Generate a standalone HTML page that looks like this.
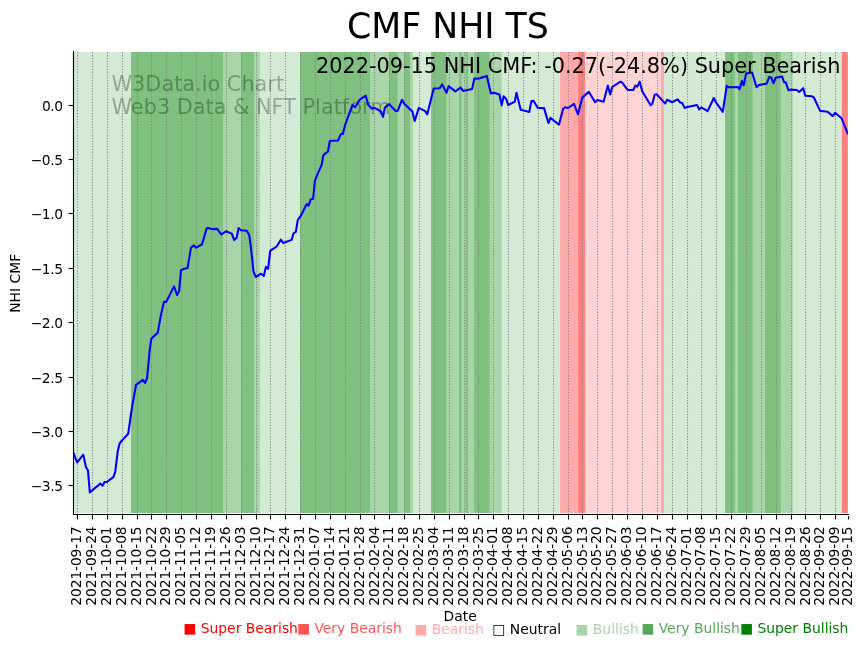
<!DOCTYPE html>
<html><head><meta charset="utf-8"><title>CMF NHI TS</title>
<style>html,body{margin:0;padding:0;background:#fff;}svg{display:block;}text{font-family:"DejaVu Sans","Liberation Sans",sans-serif;}</style>
</head><body>
<svg width="867" height="646" viewBox="0 0 867 646">
<rect x="0" y="0" width="867" height="646" fill="#ffffff"/>
<g shape-rendering="auto">
<rect x="73.30" y="52.0" width="57.70" height="461.0" fill="#d4ead4"/>
<rect x="131.00" y="52.0" width="92.00" height="461.0" fill="#80c080"/>
<rect x="223.00" y="52.0" width="17.84" height="461.0" fill="#aad5aa"/>
<rect x="240.84" y="52.0" width="13.16" height="461.0" fill="#80c080"/>
<rect x="254.00" y="52.0" width="5.90" height="461.0" fill="#aad5aa"/>
<rect x="259.90" y="52.0" width="40.10" height="461.0" fill="#d4ead4"/>
<rect x="300.00" y="52.0" width="70.00" height="461.0" fill="#80c080"/>
<rect x="370.00" y="52.0" width="18.94" height="461.0" fill="#aad5aa"/>
<rect x="388.94" y="52.0" width="8.94" height="461.0" fill="#80c080"/>
<rect x="397.88" y="52.0" width="6.05" height="461.0" fill="#aad5aa"/>
<rect x="403.93" y="52.0" width="6.06" height="461.0" fill="#80c080"/>
<rect x="409.99" y="52.0" width="3.00" height="461.0" fill="#aad5aa"/>
<rect x="412.99" y="52.0" width="18.07" height="461.0" fill="#d4ead4"/>
<rect x="431.06" y="52.0" width="15.74" height="461.0" fill="#80c080"/>
<rect x="446.80" y="52.0" width="12.20" height="461.0" fill="#aad5aa"/>
<rect x="459.00" y="52.0" width="2.90" height="461.0" fill="#80c080"/>
<rect x="461.90" y="52.0" width="3.30" height="461.0" fill="#aad5aa"/>
<rect x="465.20" y="52.0" width="2.80" height="461.0" fill="#80c080"/>
<rect x="468.00" y="52.0" width="6.04" height="461.0" fill="#aad5aa"/>
<rect x="474.04" y="52.0" width="15.86" height="461.0" fill="#80c080"/>
<rect x="489.90" y="52.0" width="12.00" height="461.0" fill="#aad5aa"/>
<rect x="501.90" y="52.0" width="58.17" height="461.0" fill="#d4ead4"/>
<rect x="560.07" y="52.0" width="17.73" height="461.0" fill="#ffaaaa"/>
<rect x="577.80" y="52.0" width="7.20" height="461.0" fill="#ff8080"/>
<rect x="585.00" y="52.0" width="76.00" height="461.0" fill="#ffd4d4"/>
<rect x="661.00" y="52.0" width="3.00" height="461.0" fill="#ffaaaa"/>
<rect x="664.00" y="52.0" width="61.07" height="461.0" fill="#d4ead4"/>
<rect x="725.07" y="52.0" width="9.83" height="461.0" fill="#80c080"/>
<rect x="734.90" y="52.0" width="3.10" height="461.0" fill="#aad5aa"/>
<rect x="738.00" y="52.0" width="14.90" height="461.0" fill="#80c080"/>
<rect x="752.90" y="52.0" width="12.10" height="461.0" fill="#aad5aa"/>
<rect x="765.00" y="52.0" width="15.90" height="461.0" fill="#80c080"/>
<rect x="780.90" y="52.0" width="12.00" height="461.0" fill="#aad5aa"/>
<rect x="792.90" y="52.0" width="48.90" height="461.0" fill="#d4ead4"/>
<rect x="841.80" y="52.0" width="6.10" height="461.0" fill="#ff8080"/>
</g>
<g stroke="#808080" stroke-width="1.0417" stroke-dasharray="1.0417 1.7188" fill="none">
<line x1="77.5" y1="514.4" x2="77.5" y2="51.4"/>
<line x1="92.5" y1="514.4" x2="92.5" y2="51.4"/>
<line x1="107.5" y1="514.4" x2="107.5" y2="51.4"/>
<line x1="122.5" y1="514.4" x2="122.5" y2="51.4"/>
<line x1="137.5" y1="514.4" x2="137.5" y2="51.4"/>
<line x1="151.5" y1="514.4" x2="151.5" y2="51.4"/>
<line x1="166.5" y1="514.4" x2="166.5" y2="51.4"/>
<line x1="181.5" y1="514.4" x2="181.5" y2="51.4"/>
<line x1="196.5" y1="514.4" x2="196.5" y2="51.4"/>
<line x1="211.5" y1="514.4" x2="211.5" y2="51.4"/>
<line x1="226.5" y1="514.4" x2="226.5" y2="51.4"/>
<line x1="241.5" y1="514.4" x2="241.5" y2="51.4"/>
<line x1="256.5" y1="514.4" x2="256.5" y2="51.4"/>
<line x1="270.5" y1="514.4" x2="270.5" y2="51.4"/>
<line x1="285.5" y1="514.4" x2="285.5" y2="51.4"/>
<line x1="300.5" y1="514.4" x2="300.5" y2="51.4"/>
<line x1="315.5" y1="514.4" x2="315.5" y2="51.4"/>
<line x1="330.5" y1="514.4" x2="330.5" y2="51.4"/>
<line x1="345.5" y1="514.4" x2="345.5" y2="51.4"/>
<line x1="360.5" y1="514.4" x2="360.5" y2="51.4"/>
<line x1="374.5" y1="514.4" x2="374.5" y2="51.4"/>
<line x1="389.5" y1="514.4" x2="389.5" y2="51.4"/>
<line x1="404.5" y1="514.4" x2="404.5" y2="51.4"/>
<line x1="419.5" y1="514.4" x2="419.5" y2="51.4"/>
<line x1="434.5" y1="514.4" x2="434.5" y2="51.4"/>
<line x1="449.5" y1="514.4" x2="449.5" y2="51.4"/>
<line x1="464.5" y1="514.4" x2="464.5" y2="51.4"/>
<line x1="478.5" y1="514.4" x2="478.5" y2="51.4"/>
<line x1="493.5" y1="514.4" x2="493.5" y2="51.4"/>
<line x1="508.5" y1="514.4" x2="508.5" y2="51.4"/>
<line x1="523.5" y1="514.4" x2="523.5" y2="51.4"/>
<line x1="538.5" y1="514.4" x2="538.5" y2="51.4"/>
<line x1="553.5" y1="514.4" x2="553.5" y2="51.4"/>
<line x1="568.5" y1="514.4" x2="568.5" y2="51.4"/>
<line x1="582.5" y1="514.4" x2="582.5" y2="51.4"/>
<line x1="597.5" y1="514.4" x2="597.5" y2="51.4"/>
<line x1="612.5" y1="514.4" x2="612.5" y2="51.4"/>
<line x1="627.5" y1="514.4" x2="627.5" y2="51.4"/>
<line x1="642.5" y1="514.4" x2="642.5" y2="51.4"/>
<line x1="657.5" y1="514.4" x2="657.5" y2="51.4"/>
<line x1="672.5" y1="514.4" x2="672.5" y2="51.4"/>
<line x1="687.5" y1="514.4" x2="687.5" y2="51.4"/>
<line x1="701.5" y1="514.4" x2="701.5" y2="51.4"/>
<line x1="716.5" y1="514.4" x2="716.5" y2="51.4"/>
<line x1="731.5" y1="514.4" x2="731.5" y2="51.4"/>
<line x1="746.5" y1="514.4" x2="746.5" y2="51.4"/>
<line x1="761.5" y1="514.4" x2="761.5" y2="51.4"/>
<line x1="776.5" y1="514.4" x2="776.5" y2="51.4"/>
<line x1="791.5" y1="514.4" x2="791.5" y2="51.4"/>
<line x1="805.5" y1="514.4" x2="805.5" y2="51.4"/>
<line x1="820.5" y1="514.4" x2="820.5" y2="51.4"/>
<line x1="835.5" y1="514.4" x2="835.5" y2="51.4"/>
</g>
<g font-family="DejaVu Sans, Liberation Sans, sans-serif" font-size="20.83px" fill="#000000" fill-opacity="0.3">
<text x="111.5" y="90.6">W3Data.io Chart</text>
<text x="111.5" y="113.7">Web3 Data &amp; NFT Platform</text>
</g>
<defs><clipPath id="ax"><rect x="73.5" y="51.4" width="774.4" height="463"/></clipPath></defs>
<polyline clip-path="url(#ax)" points="73.20,452.50 77.10,462.30 83.30,454.70 85.90,466.90 88.00,470.60 89.80,492.40 100.30,483.60 102.60,485.70 104.50,482.00 106.80,482.00 113.40,477.20 115.20,472.00 117.70,451.60 119.60,443.50 122.00,440.40 128.20,433.70 132.30,405.50 136.10,384.80 142.90,379.90 145.10,382.80 147.10,378.00 149.70,350.40 151.40,338.50 157.70,332.90 160.80,315.90 163.90,301.90 166.30,301.90 174.00,286.40 177.10,295.00 179.10,291.10 181.00,270.20 183.30,269.10 187.60,267.90 191.00,247.70 193.80,245.40 196.10,247.70 202.00,244.30 206.70,228.20 208.50,228.00 211.30,229.10 217.20,228.90 221.30,234.50 225.90,231.30 231.80,233.60 234.20,240.10 236.70,237.80 238.60,228.00 241.00,230.20 246.80,230.70 249.20,235.00 250.80,246.40 253.50,271.30 255.70,277.00 261.10,273.70 263.80,276.00 265.90,266.90 268.10,268.80 270.20,250.80 272.40,249.30 276.70,246.50 280.80,239.70 283.30,243.10 286.00,242.10 291.60,239.90 293.50,233.50 295.90,231.60 297.80,219.80 300.30,216.70 306.10,205.20 306.90,204.10 308.70,205.60 310.60,199.40 313.10,198.80 314.90,180.80 316.80,175.80 321.70,164.70 323.30,155.40 325.40,153.30 327.90,151.70 329.80,141.20 331.60,140.80 338.20,140.50 340.30,135.00 341.60,133.70 342.80,134.00 345.10,125.00 348.50,115.60 352.60,105.00 355.10,107.30 359.60,99.90 365.70,95.60 368.10,104.60 371.90,108.80 374.50,107.80 380.90,111.40 383.00,116.90 384.90,107.60 388.90,104.10 395.70,111.00 397.80,110.70 402.00,99.70 404.40,103.90 412.40,111.60 414.70,121.00 418.80,107.80 425.20,111.20 427.30,114.30 433.70,88.60 439.70,88.20 442.20,84.40 446.50,92.90 448.60,86.10 455.30,91.40 460.60,87.60 463.20,91.00 472.10,89.00 474.30,78.60 478.10,78.80 486.80,75.90 490.90,93.50 493.80,92.70 499.40,94.40 501.70,105.40 503.60,96.30 506.20,99.00 508.20,105.10 514.80,101.70 516.50,92.80 520.70,109.80 529.30,111.90 531.40,101.10 533.50,100.90 537.80,107.90 544.10,108.10 548.40,123.00 550.50,117.90 559.00,124.70 563.20,108.60 565.10,107.30 568.10,108.00 574.00,103.80 578.00,114.30 582.30,97.60 588.80,91.90 595.10,102.10 597.40,100.10 603.60,101.80 607.80,85.60 610.20,94.40 612.30,86.90 620.50,81.70 622.70,83.20 626.90,89.10 628.60,90.00 633.30,90.00 635.40,85.50 637.30,86.60 639.70,81.70 642.20,91.30 650.60,105.10 652.30,103.90 654.60,94.70 656.70,94.30 665.20,103.60 667.10,99.80 672.10,102.30 677.80,99.40 680.20,102.60 682.30,103.10 684.60,107.90 687.40,107.10 697.10,105.10 699.10,109.40 701.30,107.40 707.60,111.10 713.80,98.00 716.40,103.00 722.80,111.90 726.70,85.90 728.80,87.30 737.80,87.00 739.60,89.30 741.90,81.00 743.70,85.40 746.10,73.50 752.10,72.50 756.50,87.10 758.90,85.00 766.70,83.60 769.30,76.90 771.40,77.80 773.50,83.30 775.60,77.80 782.10,76.60 784.10,82.40 785.80,82.20 788.40,90.30 791.00,89.60 796.80,90.00 799.20,91.90 803.20,88.20 805.30,95.80 811.90,96.30 813.90,97.50 820.10,110.90 827.60,111.70 832.80,116.10 835.10,112.80 841.50,118.20 848.20,134.70" fill="none" stroke="#0000ff" stroke-width="2.08" stroke-linejoin="round" stroke-linecap="butt"/>
<text x="316.0" y="72.6" font-family="DejaVu Sans, Liberation Sans, sans-serif" font-size="20.83px" fill="#000">2022-09-15 NHI CMF: -0.27(-24.8%) Super Bearish</text>
<g stroke="#000" stroke-width="1.11" fill="none">
<line x1="73.5" y1="50.9" x2="73.5" y2="515.0"/>
<line x1="73.0" y1="514.5" x2="848.9" y2="514.5"/>
<line x1="68.6" y1="105.5" x2="73.5" y2="105.5"/>
<line x1="68.6" y1="159.5" x2="73.5" y2="159.5"/>
<line x1="68.6" y1="213.5" x2="73.5" y2="213.5"/>
<line x1="68.6" y1="268.5" x2="73.5" y2="268.5"/>
<line x1="68.6" y1="322.5" x2="73.5" y2="322.5"/>
<line x1="68.6" y1="377.5" x2="73.5" y2="377.5"/>
<line x1="68.6" y1="431.5" x2="73.5" y2="431.5"/>
<line x1="68.6" y1="485.5" x2="73.5" y2="485.5"/>
<line x1="77.5" y1="514.5" x2="77.5" y2="519.4"/>
<line x1="92.5" y1="514.5" x2="92.5" y2="519.4"/>
<line x1="107.5" y1="514.5" x2="107.5" y2="519.4"/>
<line x1="122.5" y1="514.5" x2="122.5" y2="519.4"/>
<line x1="137.5" y1="514.5" x2="137.5" y2="519.4"/>
<line x1="151.5" y1="514.5" x2="151.5" y2="519.4"/>
<line x1="166.5" y1="514.5" x2="166.5" y2="519.4"/>
<line x1="181.5" y1="514.5" x2="181.5" y2="519.4"/>
<line x1="196.5" y1="514.5" x2="196.5" y2="519.4"/>
<line x1="211.5" y1="514.5" x2="211.5" y2="519.4"/>
<line x1="226.5" y1="514.5" x2="226.5" y2="519.4"/>
<line x1="241.5" y1="514.5" x2="241.5" y2="519.4"/>
<line x1="256.5" y1="514.5" x2="256.5" y2="519.4"/>
<line x1="270.5" y1="514.5" x2="270.5" y2="519.4"/>
<line x1="285.5" y1="514.5" x2="285.5" y2="519.4"/>
<line x1="300.5" y1="514.5" x2="300.5" y2="519.4"/>
<line x1="315.5" y1="514.5" x2="315.5" y2="519.4"/>
<line x1="330.5" y1="514.5" x2="330.5" y2="519.4"/>
<line x1="345.5" y1="514.5" x2="345.5" y2="519.4"/>
<line x1="360.5" y1="514.5" x2="360.5" y2="519.4"/>
<line x1="374.5" y1="514.5" x2="374.5" y2="519.4"/>
<line x1="389.5" y1="514.5" x2="389.5" y2="519.4"/>
<line x1="404.5" y1="514.5" x2="404.5" y2="519.4"/>
<line x1="419.5" y1="514.5" x2="419.5" y2="519.4"/>
<line x1="434.5" y1="514.5" x2="434.5" y2="519.4"/>
<line x1="449.5" y1="514.5" x2="449.5" y2="519.4"/>
<line x1="464.5" y1="514.5" x2="464.5" y2="519.4"/>
<line x1="478.5" y1="514.5" x2="478.5" y2="519.4"/>
<line x1="493.5" y1="514.5" x2="493.5" y2="519.4"/>
<line x1="508.5" y1="514.5" x2="508.5" y2="519.4"/>
<line x1="523.5" y1="514.5" x2="523.5" y2="519.4"/>
<line x1="538.5" y1="514.5" x2="538.5" y2="519.4"/>
<line x1="553.5" y1="514.5" x2="553.5" y2="519.4"/>
<line x1="568.5" y1="514.5" x2="568.5" y2="519.4"/>
<line x1="582.5" y1="514.5" x2="582.5" y2="519.4"/>
<line x1="597.5" y1="514.5" x2="597.5" y2="519.4"/>
<line x1="612.5" y1="514.5" x2="612.5" y2="519.4"/>
<line x1="627.5" y1="514.5" x2="627.5" y2="519.4"/>
<line x1="642.5" y1="514.5" x2="642.5" y2="519.4"/>
<line x1="657.5" y1="514.5" x2="657.5" y2="519.4"/>
<line x1="672.5" y1="514.5" x2="672.5" y2="519.4"/>
<line x1="687.5" y1="514.5" x2="687.5" y2="519.4"/>
<line x1="701.5" y1="514.5" x2="701.5" y2="519.4"/>
<line x1="716.5" y1="514.5" x2="716.5" y2="519.4"/>
<line x1="731.5" y1="514.5" x2="731.5" y2="519.4"/>
<line x1="746.5" y1="514.5" x2="746.5" y2="519.4"/>
<line x1="761.5" y1="514.5" x2="761.5" y2="519.4"/>
<line x1="776.5" y1="514.5" x2="776.5" y2="519.4"/>
<line x1="791.5" y1="514.5" x2="791.5" y2="519.4"/>
<line x1="805.5" y1="514.5" x2="805.5" y2="519.4"/>
<line x1="820.5" y1="514.5" x2="820.5" y2="519.4"/>
<line x1="835.5" y1="514.5" x2="835.5" y2="519.4"/>
<line x1="848.5" y1="516.3" x2="848.5" y2="519.4"/>
</g>
<g font-family="DejaVu Sans, Liberation Sans, sans-serif" font-size="13.89px" fill="#000" text-anchor="end" letter-spacing="-0.45px">
<text x="62.6" y="110.67">0.0</text>
<text x="62.6" y="165.05">−0.5</text>
<text x="62.6" y="219.43">−1.0</text>
<text x="62.6" y="273.81">−1.5</text>
<text x="62.6" y="328.19">−2.0</text>
<text x="62.6" y="382.57">−2.5</text>
<text x="62.6" y="436.95">−3.0</text>
<text x="62.6" y="491.33">−3.5</text>
</g>
<g font-family="DejaVu Sans, Liberation Sans, sans-serif" font-size="13.89px" fill="#000" text-anchor="end" letter-spacing="-0.15px">
<text transform="translate(81.27,526.5) rotate(-90)">2021-09-17</text>
<text transform="translate(96.13,526.5) rotate(-90)">2021-09-24</text>
<text transform="translate(110.99,526.5) rotate(-90)">2021-10-01</text>
<text transform="translate(125.85,526.5) rotate(-90)">2021-10-08</text>
<text transform="translate(140.72,526.5) rotate(-90)">2021-10-15</text>
<text transform="translate(155.58,526.5) rotate(-90)">2021-10-22</text>
<text transform="translate(170.44,526.5) rotate(-90)">2021-10-29</text>
<text transform="translate(185.30,526.5) rotate(-90)">2021-11-05</text>
<text transform="translate(200.17,526.5) rotate(-90)">2021-11-12</text>
<text transform="translate(215.03,526.5) rotate(-90)">2021-11-19</text>
<text transform="translate(229.89,526.5) rotate(-90)">2021-11-26</text>
<text transform="translate(244.75,526.5) rotate(-90)">2021-12-03</text>
<text transform="translate(259.62,526.5) rotate(-90)">2021-12-10</text>
<text transform="translate(274.48,526.5) rotate(-90)">2021-12-17</text>
<text transform="translate(289.34,526.5) rotate(-90)">2021-12-24</text>
<text transform="translate(304.20,526.5) rotate(-90)">2021-12-31</text>
<text transform="translate(319.06,526.5) rotate(-90)">2022-01-07</text>
<text transform="translate(333.93,526.5) rotate(-90)">2022-01-14</text>
<text transform="translate(348.79,526.5) rotate(-90)">2022-01-21</text>
<text transform="translate(363.65,526.5) rotate(-90)">2022-01-28</text>
<text transform="translate(378.51,526.5) rotate(-90)">2022-02-04</text>
<text transform="translate(393.38,526.5) rotate(-90)">2022-02-11</text>
<text transform="translate(408.24,526.5) rotate(-90)">2022-02-18</text>
<text transform="translate(423.10,526.5) rotate(-90)">2022-02-25</text>
<text transform="translate(437.96,526.5) rotate(-90)">2022-03-04</text>
<text transform="translate(452.83,526.5) rotate(-90)">2022-03-11</text>
<text transform="translate(467.69,526.5) rotate(-90)">2022-03-18</text>
<text transform="translate(482.55,526.5) rotate(-90)">2022-03-25</text>
<text transform="translate(497.41,526.5) rotate(-90)">2022-04-01</text>
<text transform="translate(512.27,526.5) rotate(-90)">2022-04-08</text>
<text transform="translate(527.14,526.5) rotate(-90)">2022-04-15</text>
<text transform="translate(542.00,526.5) rotate(-90)">2022-04-22</text>
<text transform="translate(556.86,526.5) rotate(-90)">2022-04-29</text>
<text transform="translate(571.72,526.5) rotate(-90)">2022-05-06</text>
<text transform="translate(586.59,526.5) rotate(-90)">2022-05-13</text>
<text transform="translate(601.45,526.5) rotate(-90)">2022-05-20</text>
<text transform="translate(616.31,526.5) rotate(-90)">2022-05-27</text>
<text transform="translate(631.17,526.5) rotate(-90)">2022-06-03</text>
<text transform="translate(646.03,526.5) rotate(-90)">2022-06-10</text>
<text transform="translate(660.90,526.5) rotate(-90)">2022-06-17</text>
<text transform="translate(675.76,526.5) rotate(-90)">2022-06-24</text>
<text transform="translate(690.62,526.5) rotate(-90)">2022-07-01</text>
<text transform="translate(705.48,526.5) rotate(-90)">2022-07-08</text>
<text transform="translate(720.35,526.5) rotate(-90)">2022-07-15</text>
<text transform="translate(735.21,526.5) rotate(-90)">2022-07-22</text>
<text transform="translate(750.07,526.5) rotate(-90)">2022-07-29</text>
<text transform="translate(764.93,526.5) rotate(-90)">2022-08-05</text>
<text transform="translate(779.80,526.5) rotate(-90)">2022-08-12</text>
<text transform="translate(794.66,526.5) rotate(-90)">2022-08-19</text>
<text transform="translate(809.52,526.5) rotate(-90)">2022-08-26</text>
<text transform="translate(824.38,526.5) rotate(-90)">2022-09-02</text>
<text transform="translate(839.24,526.5) rotate(-90)">2022-09-09</text>
<text transform="translate(851.98,526.5) rotate(-90)">2022-09-15</text>
</g>
<text x="443.5" y="621.1" font-family="DejaVu Sans, Liberation Sans, sans-serif" font-size="13.89px" fill="#000">Date</text>
<text transform="translate(19.8,283.35) rotate(-90)" text-anchor="middle" font-family="DejaVu Sans, Liberation Sans, sans-serif" font-size="13.89px" fill="#000">NHI CMF</text>
<text x="347.0" y="38.0" font-family="DejaVu Sans, Liberation Sans, sans-serif" font-size="34.72px" fill="#000">CMF NHI TS</text>
<g font-family="DejaVu Sans, Liberation Sans, sans-serif" font-size="13.89px">
<text x="183.20" y="632.5" fill="#ff0000">■ Super Bearish</text>
<text x="296.90" y="632.5" fill="#ff5555">■ Very Bearish</text>
<text x="414.20" y="633.5" fill="#ffaaaa">■ Bearish</text>
<text x="492.30" y="633.5" fill="#000000">□ Neutral</text>
<text x="575.30" y="633.5" fill="#aad5aa">■ Bullish</text>
<text x="641.20" y="632.5" fill="#55aa55">■ Very Bullish</text>
<text x="739.90" y="632.5" fill="#008000">■ Super Bullish</text>
</g>
</svg>
</body></html>
